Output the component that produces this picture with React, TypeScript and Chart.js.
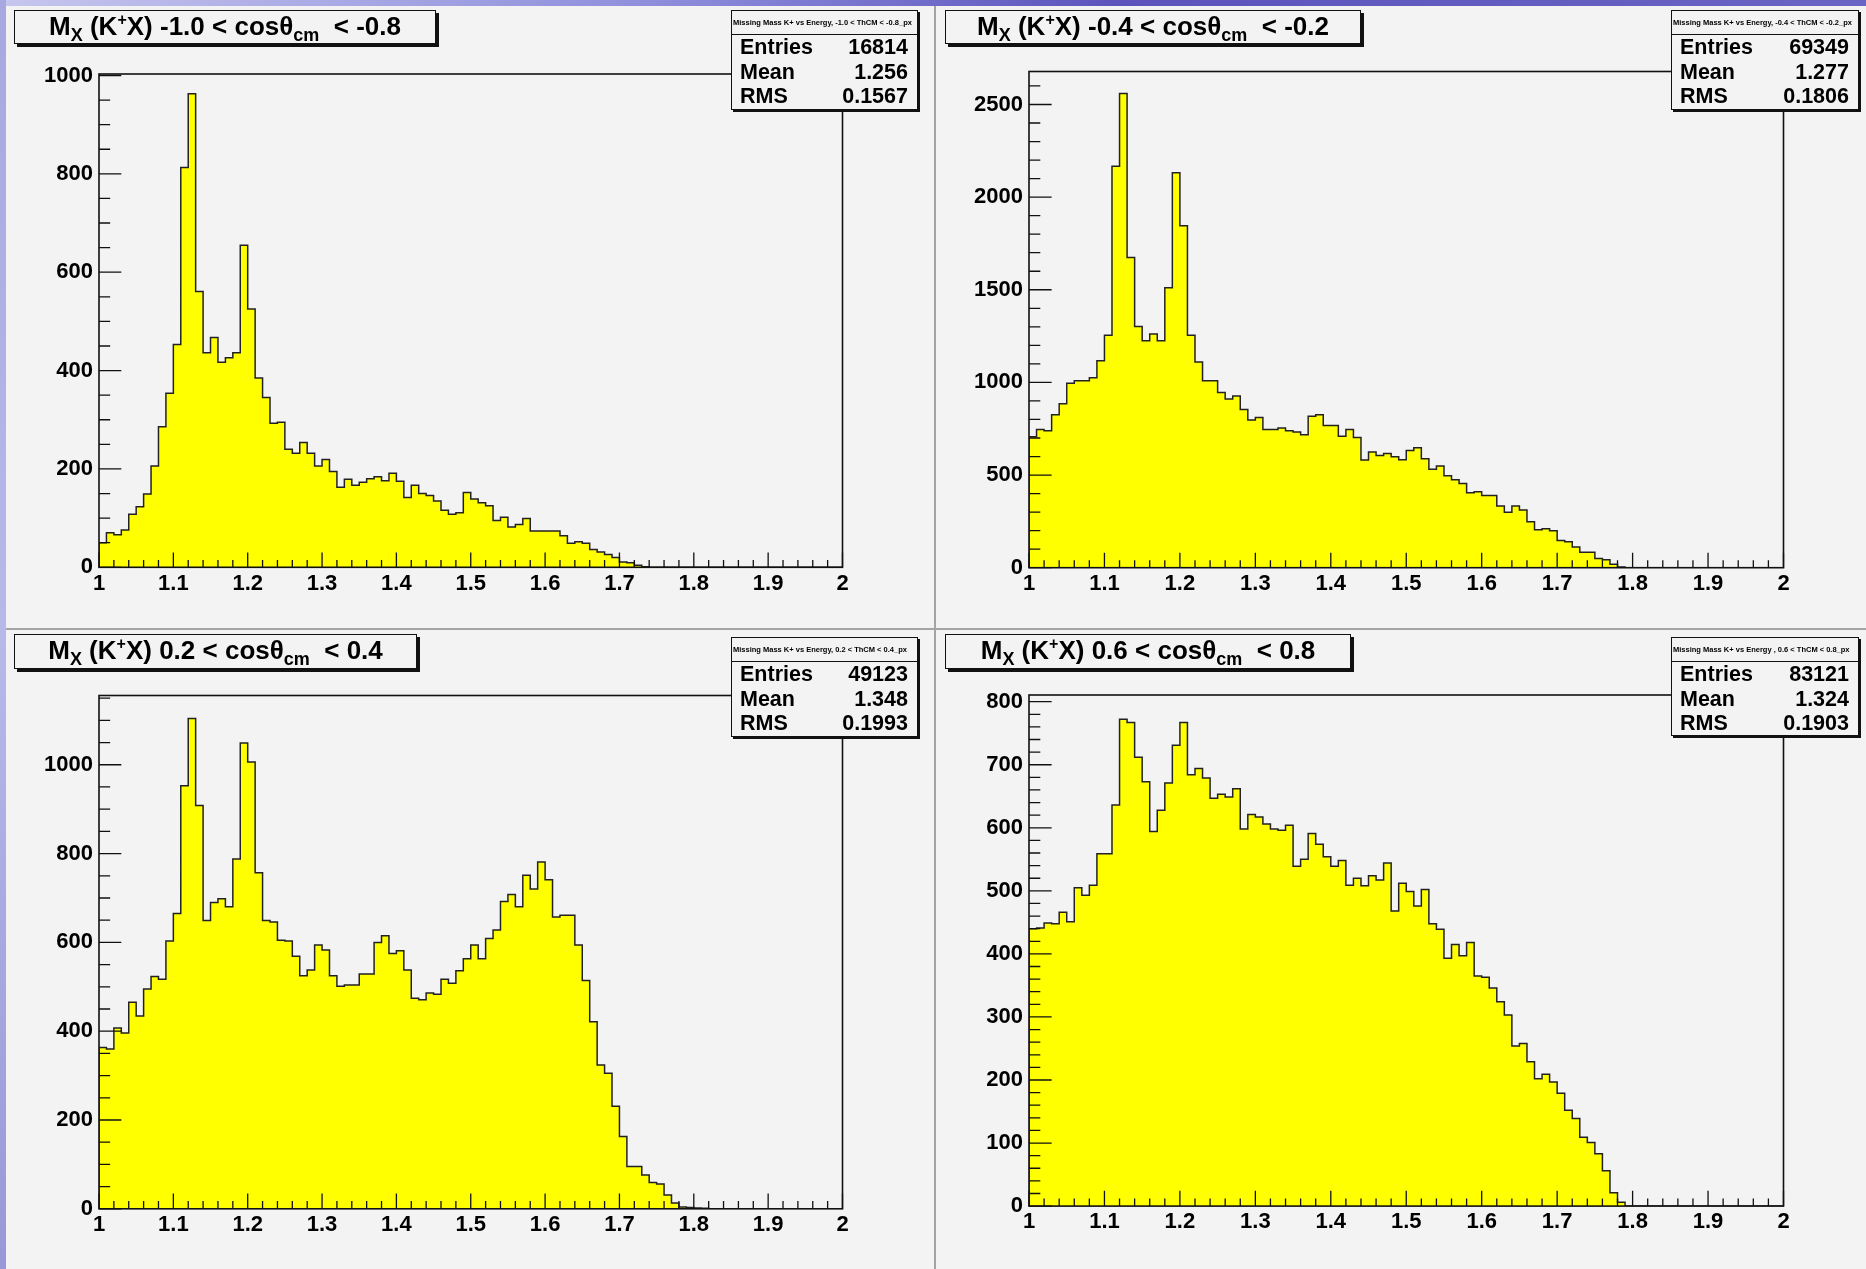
import React, { useEffect, useRef } from 'react';
import { Chart, registerables } from 'chart.js';

Chart.register(...registerables);

// ---------- data ----------
const xMin = 1.0;
const xMax = 2.0;
const binWidth = 0.01;

const xTicks = [1, 1.1, 1.2, 1.3, 1.4, 1.5, 1.6, 1.7, 1.8, 1.9, 2];
const xTickLabels = ['1', '1.1', '1.2', '1.3', '1.4', '1.5', '1.6', '1.7', '1.8', '1.9', '2'];

// bin contents from 1.00 in steps of 0.01 (later bins are empty)
const counts1 = [50, 70, 66, 76, 108, 123, 149, 206, 286, 354, 453, 813, 963, 561, 436, 467, 417, 426, 436, 655,
  525, 385, 345, 293, 295, 240, 232, 254, 232, 206, 219, 195, 163, 179, 167, 173, 180, 184, 176, 191,
  175, 142, 167, 150, 146, 135, 116, 108, 111, 152, 139, 131, 125, 95, 102, 82, 87, 99, 74, 74,
  74, 74, 64, 49, 52, 49, 36, 31, 26, 20, 11, 9, 4, 1];
const counts2 = [707, 746, 739, 826, 885, 996, 1009, 1009, 1025, 1117, 1254, 2166, 2559, 1674, 1302, 1225, 1261, 1225, 1511, 2131,
  1845, 1254, 1110, 1009, 1009, 946, 910, 926, 854, 797, 811, 746, 746, 754, 739, 732, 718, 818, 826, 768,
  768, 710, 746, 703, 581, 624, 606, 617, 599, 583, 633, 648, 588, 532, 549, 496, 475, 455, 405, 410,
  390, 390, 333, 299, 333, 311, 248, 205, 210, 200, 147, 140, 112, 83, 83, 49, 43, 18, 4];
const counts3 = [363, 360, 407, 396, 465, 434, 495, 523, 517, 603, 665, 953, 1104, 908, 649, 690, 698, 680, 788, 1049,
  1006, 757, 649, 646, 605, 603, 569, 525, 538, 594, 583, 525, 501, 504, 504, 529, 529, 600, 615, 575,
  581, 538, 474, 471, 486, 483, 517, 508, 536, 563, 594, 563, 609, 628, 692, 708, 680, 751, 720, 781,
  741, 657, 661, 661, 594, 514, 421, 324, 305, 231, 163, 95, 95, 76, 59, 56, 31, 13, 4, 3, 2, 1];
const counts4 = [440, 441, 449, 448, 466, 451, 505, 493, 509, 559, 559, 636, 772, 767, 712, 673, 594, 628, 671, 731,
  767, 684, 694, 679, 647, 653, 649, 662, 598, 621, 617, 606, 598, 596, 604, 539, 550, 591, 574, 554,
  539, 548, 509, 520, 508, 524, 517, 544, 468, 512, 499, 476, 502, 448, 439, 393, 415, 397, 418, 365,
  363, 346, 324, 303, 254, 258, 229, 202, 209, 197, 179, 152, 139, 109, 101, 83, 56, 21, 6];

const yTicks1 = [0, 200, 400, 600, 800, 1000];
const yTicks2 = [0, 500, 1000, 1500, 2000, 2500];
const yTicks3 = [0, 200, 400, 600, 800, 1000];
const yTicks4 = [0, 100, 200, 300, 400, 500, 600, 700, 800];

const yMaxes = [1003, 2678, 1156, 810.6];
const yMinorSteps = [50, 100, 50, 20];
const yMajorSteps = [200, 500, 200, 100];

const rangeTitles = ['-1.0 < cos', '-0.4 < cos', '0.2 < cos', '0.6 < cos'];
const rangeTails = ['  < -0.8', '  < -0.2', '  < 0.4', '  < 0.8'];
const statTitles = [
  'Missing Mass K+ vs Energy, -1.0 < ThCM < -0.8_px',
  'Missing Mass K+ vs Energy, -0.4 < ThCM < -0.2_px',
  'Missing Mass K+ vs Energy, 0.2 < ThCM < 0.4_px',
  'Missing Mass K+ vs Energy , 0.6 < ThCM < 0.8_px',
];
const statEntries = ['16814', '69349', '49123', '83121'];
const statMeans = ['1.256', '1.277', '1.348', '1.324'];
const statRms = ['0.1567', '0.1806', '0.1993', '0.1903'];

// ---------- layout (page pixels) ----------
const layouts = [
  { canvas: { l: 6, t: 6, w: 928, h: 622 }, frame: { l: 99, t: 74, r: 842.5, b: 567.3 },
    title: { l: 14, t: 10, w: 422, h: 34 }, stats: { l: 731, t: 10, w: 187, h: 100 } },
  { canvas: { l: 936, t: 6, w: 930, h: 622 }, frame: { l: 1029, t: 71.5, r: 1783.5, b: 567.7 },
    title: { l: 945, t: 10, w: 416, h: 34 }, stats: { l: 1671, t: 10, w: 188, h: 100 } },
  { canvas: { l: 6, t: 630, w: 928, h: 639 }, frame: { l: 99, t: 695.5, r: 842.5, b: 1208.8 },
    title: { l: 14, t: 634, w: 403, h: 35 }, stats: { l: 731, t: 637, w: 187, h: 100 } },
  { canvas: { l: 936, t: 630, w: 930, h: 639 }, frame: { l: 1029, t: 695, r: 1783.5, b: 1206.1 },
    title: { l: 945, t: 634, w: 406, h: 35 }, stats: { l: 1671, t: 637, w: 188, h: 99 } },
];

const allCounts = [counts1, counts2, counts3, counts4];
const allYTicks = [yTicks1, yTicks2, yTicks3, yTicks4];

const FONT = '"Liberation Sans", Arial, Helvetica, sans-serif';
const BG = '#f3f3f3';

const rootAxesPlugin = {
  id: 'rootAxes',
  afterDatasetsDraw(chart: any) {
    const { ctx, chartArea: a, scales } = chart;
    const x = scales.x;
    const y = scales.y;
    const o = chart.options.plugins.rootAxes;
    const fw = a.right - a.left;
    const fh = a.bottom - a.top;
    ctx.save();
    ctx.strokeStyle = '#111';
    ctx.lineWidth = 1.3;
    ctx.beginPath();
    const nx = Math.round((xMax - xMin) / 0.02);
    for (let i = 0; i <= nx; i++) {
      const v = xMin + i * 0.02;
      const px = x.getPixelForValue(v);
      const len = i % 5 === 0 ? 0.03 * fh : 0.015 * fh;
      ctx.moveTo(px, a.bottom);
      ctx.lineTo(px, a.bottom - len);
    }
    const ny = Math.floor(o.yMax / o.yMinor + 1e-6);
    const per = Math.round(o.yMajor / o.yMinor);
    for (let i = 0; i <= ny; i++) {
      const v = i * o.yMinor;
      const py = y.getPixelForValue(v);
      const len = i % per === 0 ? 0.03 * fw : 0.015 * fw;
      ctx.moveTo(a.left, py);
      ctx.lineTo(a.left + len, py);
    }
    ctx.stroke();
    ctx.lineWidth = 1.6;
    ctx.strokeRect(a.left, a.top, fw, fh);
    ctx.restore();
  },
};

function HistPanel({ idx }: { idx: number }) {
  const ref = useRef<HTMLCanvasElement>(null);
  const L = layouts[idx];
  const W = L.canvas.w;
  const H = L.canvas.h;
  useEffect(() => {
    const counts = allCounts[idx];
    const yt = allYTicks[idx];
    const ft = L.frame.t - L.canvas.t;
    const fl = L.frame.l - L.canvas.l;
    const fr = L.frame.r - L.canvas.l;
    const fb = L.frame.b - L.canvas.t;
    const pts: { x: number; y: number }[] = [{ x: xMin, y: 0 }];
    counts.forEach((v, i) => pts.push({ x: xMin + i * binWidth, y: v }));
    pts.push({ x: xMin + counts.length * binWidth, y: 0 });
    pts.push({ x: xMax, y: 0 });
    const tickFont = { family: FONT, size: 22, weight: 'bold' as const };
    const chart = new Chart(ref.current as HTMLCanvasElement, {
      type: 'line',
      data: {
        datasets: [
          {
            data: pts,
            stepped: 'before',
            fill: 'origin',
            backgroundColor: '#ffff00',
            borderColor: '#222',
            borderWidth: 1.5,
            pointRadius: 0,
            tension: 0,
          },
        ],
      },
      options: {
        responsive: false,
        animation: false,
        devicePixelRatio: 1,
        events: [],
        layout: { padding: { left: 0, top: ft, right: W - fr, bottom: 0 } },
        plugins: {
          legend: { display: false },
          tooltip: { enabled: false },
          title: { display: false },
          rootAxes: { yMax: yMaxes[idx], yMinor: yMinorSteps[idx], yMajor: yMajorSteps[idx] },
        } as any,
        scales: {
          x: {
            type: 'linear',
            min: xMin,
            max: xMax,
            bounds: 'data',
            grid: { display: false, drawTicks: false },
            border: { display: false },
            afterBuildTicks: (s: any) => {
              s.ticks = xTicks.map((v) => ({ value: v }));
            },
            afterFit: (s: any) => {
              s.height = H - fb;
            },
            ticks: {
              autoSkip: false,
              maxRotation: 0,
              minRotation: 0,
              padding: 3,
              color: '#000',
              font: tickFont,
              callback: (_v: any, i: number) => xTickLabels[i],
            },
          },
          y: {
            type: 'linear',
            min: 0,
            max: yMaxes[idx],
            bounds: 'data',
            grid: { display: false, drawTicks: false },
            border: { display: false },
            afterBuildTicks: (s: any) => {
              s.ticks = yt.map((v) => ({ value: v }));
            },
            afterFit: (s: any) => {
              s.width = fl;
            },
            ticks: {
              autoSkip: false,
              padding: 6,
              color: '#000',
              font: tickFont,
              callback: (_v: any, i: number) => String(yt[i]),
            },
          },
        },
      } as any,
      plugins: [rootAxesPlugin],
    });
    return () => chart.destroy();
  }, [idx]);
  return (
    <canvas
      ref={ref}
      width={W}
      height={H}
      style={{ position: 'absolute', left: L.canvas.l, top: L.canvas.t, width: W, height: H }}
    />
  );
}

function TitleBox({ idx }: { idx: number }) {
  const b = layouts[idx].title;
  return (
    <div
      style={{
        position: 'absolute', left: b.l, top: b.t, width: b.w, height: b.h, boxSizing: 'border-box',
        border: '1.5px solid #111', boxShadow: '3px 3px 0 #111', background: BG,
        display: 'flex', alignItems: 'center', justifyContent: 'center',
        fontFamily: FONT, fontWeight: 'bold', fontSize: 26, color: '#000', whiteSpace: 'pre', zIndex: 2,
      }}
    >
      <span style={{ lineHeight: '26px', marginTop: -3 }}>
        M<sub style={{ fontSize: 18, verticalAlign: '-6px', lineHeight: 0 }}>X</sub> (K
        <sup style={{ fontSize: 16, verticalAlign: '10px', lineHeight: 0 }}>+</sup>X) {rangeTitles[idx]}θ
        <sub style={{ fontSize: 18, verticalAlign: '-6px', lineHeight: 0 }}>cm</sub>{rangeTails[idx]}
      </span>
    </div>
  );
}

function StatsBox({ idx }: { idx: number }) {
  const b = layouts[idx].stats;
  const rows = [
    ['Entries', statEntries[idx]],
    ['Mean', statMeans[idx]],
    ['RMS', statRms[idx]],
  ];
  return (
    <div
      style={{
        position: 'absolute', left: b.l, top: b.t, width: b.w, height: b.h, boxSizing: 'border-box',
        border: '1.5px solid #111', boxShadow: '2px 2px 0 #111', background: BG,
        fontFamily: FONT, fontWeight: 'bold', color: '#000', zIndex: 2, overflow: 'hidden',
      }}
    >
      <div
        style={{
          height: 23, borderBottom: '1.5px solid #111', fontSize: 7.5, lineHeight: '23px',
          whiteSpace: 'nowrap', overflow: 'hidden', paddingLeft: 1,
        }}
      >
        {statTitles[idx]}
      </div>
      {rows.map((r) => (
        <div
          key={r[0]}
          style={{
            display: 'flex', justifyContent: 'space-between', padding: '0 9px 0 8px',
            fontSize: 21.5, height: 24.5, lineHeight: '24.5px',
          }}
        >
          <span>{r[0]}</span>
          <span>{r[1]}</span>
        </div>
      ))}
    </div>
  );
}

export default function App() {
  return (
    <div
      style={{
        position: 'fixed', left: 0, top: 0, width: 1866, height: 1269, overflow: 'hidden', background: BG,
      }}
    >
      <div
        style={{
          position: 'absolute', left: 0, top: 0, width: 1866, height: 6,
          background: 'linear-gradient(90deg, #c6c6ee 0%, #8e8edc 35%, #5c54bc 60%, #6a64c4 100%)',
        }}
      />
      <div
        style={{
          position: 'absolute', left: 0, top: 0, width: 6, height: 1269,
          background: 'linear-gradient(180deg, #a8a8e0 0%, #b8b8ea 50%, #9898d8 100%)',
        }}
      />
      <div style={{ position: 'absolute', left: 6, top: 628, width: 1860, height: 2, background: '#a4a4a4' }} />
      <div style={{ position: 'absolute', left: 934, top: 6, width: 2, height: 1263, background: '#a4a4a4' }} />
      {[0, 1, 2, 3].map((i) => (
        <HistPanel key={'h' + i} idx={i} />
      ))}
      {[0, 1, 2, 3].map((i) => (
        <TitleBox key={'t' + i} idx={i} />
      ))}
      {[0, 1, 2, 3].map((i) => (
        <StatsBox key={'s' + i} idx={i} />
      ))}
    </div>
  );
}
